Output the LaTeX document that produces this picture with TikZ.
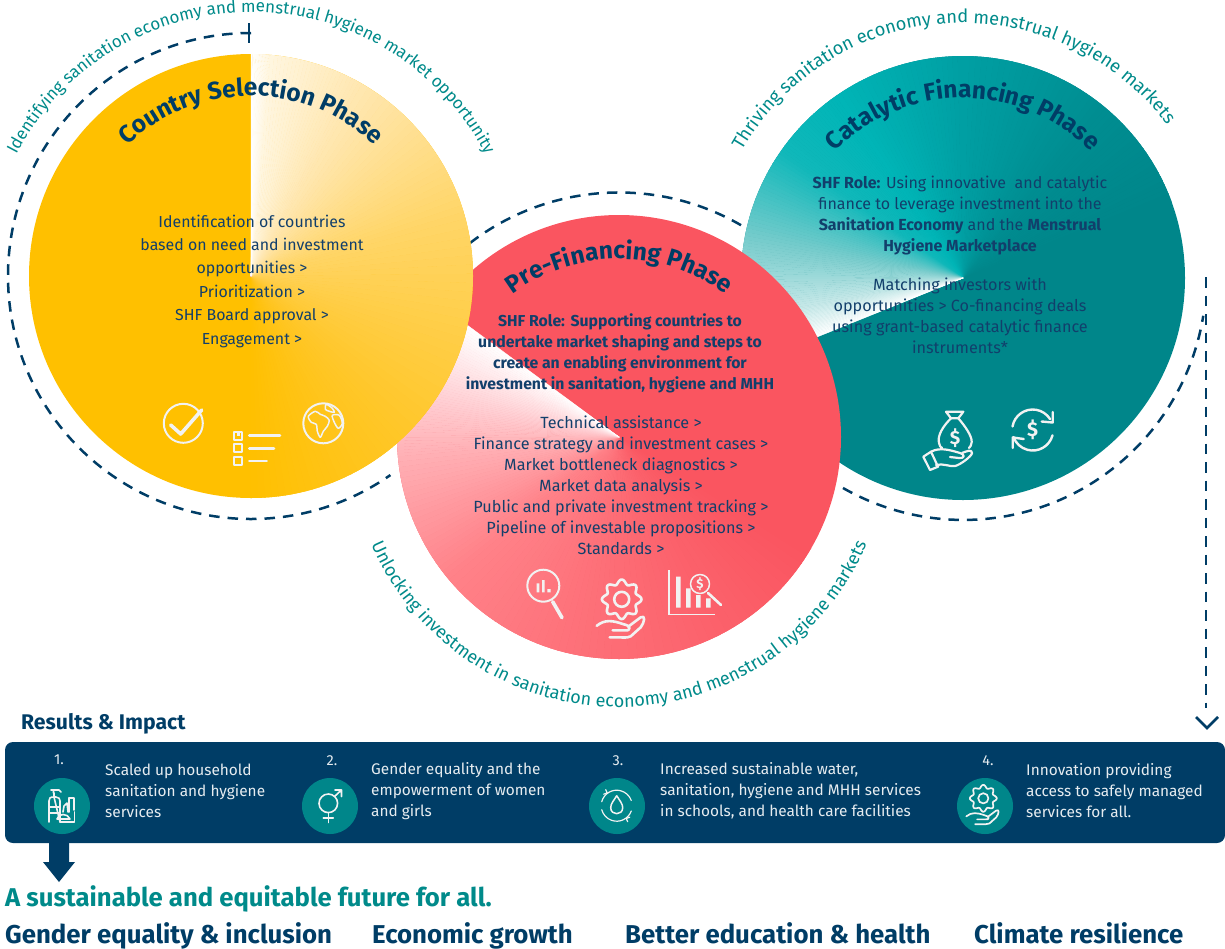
\documentclass[tikz,border=0pt]{standalone}
\usepackage{fontspec}
\setmainfont{Fira Sans}
\usetikzlibrary{decorations.text,calc}
\definecolor{navy}{HTML}{003D66}
\definecolor{inktext}{HTML}{123F6B}
\definecolor{tealtxt}{HTML}{008A8A}
\definecolor{tealbase}{HTML}{00868A}
\definecolor{redbase}{HTML}{FA5560}
\definecolor{yelbase}{HTML}{FFC000}
\definecolor{iconw}{HTML}{F2F2F2}
\definecolor{bartxt}{HTML}{E6ECF0}
\tikzset{
  px/.style={x=1pt,y=-1pt},
  dasharc/.style={draw=navy,line width=2.5pt,dash pattern=on 10.5pt off 8pt},
  icon/.style={draw=iconw,line width=2.6pt,line cap=round,line join=round},
  iconthin/.style={draw=iconw,line width=1.5pt,line cap=round,line join=round},
  bodytxt/.style={text=inktext,align=center,inner sep=0pt},
  bartext/.style={text=bartxt,align=left,anchor=west,inner sep=0pt,font=\fontsize{15.4}{21}\selectfont},
  barnum/.style={text=bartxt,inner sep=0pt,font=\fontsize{14.5}{16}\selectfont},
  barcirc/.style={circle,fill=tealbase,minimum size=56pt,inner sep=0pt},
  headrow/.style={text=navy,anchor=base west,inner sep=0pt,font=\fontsize{25.8}{28}\selectfont\bfseries},
  dollar/.style={text=iconw,inner sep=0pt},
}
\newcommand{\arcfonta}{\fontsize{17}{17}\selectfont}
\newcommand{\arcfontb}{\fontsize{18.3}{18.3}\selectfont}
\newcommand{\arcfontc}{\fontsize{18}{18}\selectfont}
\newcommand{\titlefont}{\fontsize{24.5}{25}\selectfont\bfseries}
% one conic segment: centre x, centre y, start angle, end angle, start colour, end colour
\newcommand{\coseg}[6]{%
  \foreach \t in {0,...,24}{%
    \pgfmathsetmacro{\aa}{#3+(#4-#3)*\t/25}%
    \pgfmathsetmacro{\ab}{#3+(#4-#3)*(\t+1)/25}%
    \pgfmathsetmacro{\mm}{100*(\t+.5)/25}%
    \fill[fill=#6!\mm!#5,draw=#6!\mm!#5,line width=.4pt] (#1,#2) -- +(\aa:240) -- +(\ab:240) -- cycle;
  }}
\newcommand{\gearhand}[4]{% x y scale linewidth
  \begin{scope}[shift={(#1,#2)},scale=#3,draw=iconw,line width=#4,line cap=round,line join=round]
    \draw plot[domain=0:360,samples=113,smooth] (\x:{17.5*(1+.13*cos(8*\x))});
    \draw (0,0) circle (7.5);
    \draw (-25,26.5) .. controls (-17,20) and (-9,21) .. (2,25) .. controls (9,26) and (10,32) .. (3,31) -- (-9,31);
    \draw (7,27) -- (19,18) .. controls (24,15) and (23,23) .. (19,28) -- (9,37) .. controls (5,39) and (0,38) .. (-3,38) -- (-12,38);
  \end{scope}}
\begin{document}
\begin{tikzpicture}[px]
\useasboundingbox (0,0) rectangle (1225,948);
% dashed rings
\draw[dasharc] (251,33) arc (-90:-305:243);
\draw[dasharc] (470,243) arc (-127.5:-59:244.5);
\draw[dasharc] (843,488) arc (119.7:9.2:243);
\coordinate (vtop) at (1206,277);
\coordinate (vbot) at (1206,708);
\coordinate (vtip) at (1207,728);
\coordinate (vl) at (1196,717);
\coordinate (vr) at (1218,717);
\coordinate (ticktop) at (249,23);
\coordinate (tickbot) at (249,43);
\draw[dasharc] (vtop) -- (vbot);
\draw[navy,line width=2.6pt] (vl) -- (vtip) -- (vr);
\draw[navy,line width=2.6pt] (ticktop) -- (tickbot);
% circle 3
\begin{scope}
\fill[tealbase] (963,278) circle (222);
\clip (963,278) circle (222);
\definecolor{s0}{HTML}{FFFFFF}\definecolor{s1}{HTML}{C5E8E8}\definecolor{s2}{HTML}{78CCCC}\definecolor{s3}{HTML}{10B8BA}\definecolor{s4}{HTML}{00B5B7}\definecolor{s5}{HTML}{009FA3}\definecolor{s6}{HTML}{008D91}\definecolor{s7}{HTML}{00868A}
\coseg{963}{278}{-20}{-50}{s7}{s6}
\coseg{963}{278}{-50}{-90}{s6}{s5}
\coseg{963}{278}{-90}{-125}{s5}{s4}
\coseg{963}{278}{-125}{-145}{s4}{s3}
\coseg{963}{278}{-145}{-170}{s3}{s2}
\coseg{963}{278}{-170}{-190}{s2}{s1}
\coseg{963}{278}{-190}{-202}{s1}{s0}
\end{scope}
% circle 2
\begin{scope}
\fill[redbase] (619,437) circle (222);
\clip (619,437) circle (222);
\definecolor{s0}{HTML}{FFFFFF}\definecolor{s1}{HTML}{FFD5D9}\definecolor{s2}{HTML}{FFB0B5}\definecolor{s3}{HTML}{FF8188}\definecolor{s4}{HTML}{FD6C75}\definecolor{s5}{HTML}{FA5560}
\coseg{619}{437}{-330}{-270}{s5}{s4}
\coseg{619}{437}{-270}{-220}{s4}{s3}
\coseg{619}{437}{-220}{-185}{s3}{s2}
\coseg{619}{437}{-185}{-165}{s2}{s1}
\coseg{619}{437}{-165}{-143.6}{s1}{s0}
\end{scope}
% circle 1
\begin{scope}
\fill[yelbase] (251,276) circle (222);
\clip (251,276) circle (222);
\definecolor{s0}{HTML}{FFFFFF}\definecolor{s1}{HTML}{FFF6E0}\definecolor{s2}{HTML}{FFE7B0}\definecolor{s3}{HTML}{FFD566}\definecolor{s4}{HTML}{FFC72A}\definecolor{s5}{HTML}{FFC000}
\coseg{251}{276}{90}{45}{s5}{s4}
\coseg{251}{276}{45}{-15}{s4}{s3}
\coseg{251}{276}{-15}{-60}{s3}{s2}
\coseg{251}{276}{-60}{-85}{s2}{s1}
\coseg{251}{276}{-85}{-90}{s1}{s0}
\end{scope}
% arc captions
\path[postaction={decorate},decoration={text along path,text color=tealtxt,text align=center,text={|\arcfonta|Identifying sanitation economy and menstrual hygiene market opportunity}}] (251,276) ++(-165:264) arc (-165:-15:264);
\path[postaction={decorate},decoration={text along path,text color=tealtxt,text align=center,text={|\arcfontb|Thriving sanitation economy and menstrual hygiene markets}}] (963,278) ++(-167:255) arc (-167:-20:255);
\path[postaction={decorate},decoration={text along path,text color=tealtxt,text align=center,text={|\arcfontc|Unlocking investment in sanitation economy and menstrual hygiene markets}}] (619,437) ++(-195:270) arc (-195:-345:270);
% titles
\path[postaction={decorate},decoration={text along path,text color=navy,text align=center,text={|\titlefont|Country Selection Phase}}] (251,276) ++(-160:180) arc (-160:-20:180);
\path[postaction={decorate},decoration={text along path,text color=navy,text align=center,text={|\titlefont|Pre-Financing Phase}}] (619,437) ++(-160:178) arc (-160:-20:178);
\path[postaction={decorate},decoration={text along path,text color=navy,text align=center,text={|\titlefont|Catalytic Financing Phase}}] (963,278) ++(-160:180) arc (-160:-20:180);
% circle texts
\node[bodytxt,font=\fontsize{15.9}{23.4}\selectfont] (t1) at (252,281) {Identification of countries\\based on need and investment\\opportunities >\\Prioritization >\\SHF Board approval >\\Engagement >};
\node[bodytxt,font=\fontsize{15.8}{21}\selectfont] (t2a) at (620,353) {\textbf{SHF Role:} \textbf{Supporting countries to}\\\textbf{undertake market shaping and steps to}\\\textbf{create an enabling environment for}\\\textbf{investment in sanitation, hygiene and MHH}};
\node[bodytxt,font=\fontsize{16.2}{21}\selectfont] (t2b) at (621,485.5) {Technical assistance >\\Finance strategy and investment cases >\\Market bottleneck diagnostics >\\Market data analysis >\\Public and private investment tracking >\\Pipeline of investable propositions >\\Standards >};
\node[bodytxt,font=\fontsize{16}{21}\selectfont] (t3a) at (960,216) {\textbf{SHF Role:} Using innovative\ \ and catalytic\\finance to leverage investment into the\\\textbf{Sanitation Economy} and the \textbf{Menstrual}\\\textbf{Hygiene Marketplace}};
\node[bodytxt,font=\fontsize{16.2}{21}\selectfont] (t3b) at (960,316) {Matching investors with\\opportunities > Co-financing deals\\using grant-based catalytic finance\\instruments*};
% icons circle 1
\draw[iconthin,line width=2pt] (183.3,423.3) circle (19.5);
\draw[icon,line width=3.6pt] (170.7,425) -- (180.7,434) -- (201.7,410);
\foreach \yy in {435.7,448.3,461}{\draw[iconthin,line width=2pt] (234.3,\yy-4) rectangle +(8,8);}
\fill[iconw] (236.8,433.2) rectangle +(3,3);
\draw[icon] (249.3,435.7) -- (280,435.7);
\draw[icon] (249.3,448.3) -- (274,448.3);
\draw[icon] (249.3,461) -- (266.7,461);
\begin{scope}[shift={(323.3,423.3)},iconthin]
\draw[line width=2pt] (0,0) circle (20);
\draw plot[smooth cycle] coordinates {(-15,-7)(-8,-12)(-3,-9)(2,-7)(6,-3)(4,3)(0,8)(-3,14)(-6,8)(-7,1)(-12,-1)};
\draw plot[smooth cycle] coordinates {(3,-19)(9,-15)(11,-11)(6,-12)(2,-14)};
\draw plot[smooth cycle] coordinates {(9,-8)(16,-8)(19,0)(15,5)(11,-1)};
\end{scope}
% icons circle 2
\draw[iconthin,line width=2pt] (543.3,585.7) circle (16);
\draw[icon,line width=3.6pt] (552.7,601.7) -- (562,617.7);
\fill[iconw] (536.7,583.3) rectangle (539.3,592.3) (542,580) rectangle (544.7,592.3) (547.3,589) rectangle (550.7,592.3);
\gearhand{621.7}{599.3}{1}{2.6pt}
\begin{scope}[shift={(520,565)}]
\draw[iconw,line width=1.2pt] (149,5) -- (149,49.5) -- (195,49.5);
\fill[iconw] (156,11.7) rectangle +(4.7,31) (166,23.3) rectangle +(4.7,19.4) (176,30) rectangle +(4.7,12.7) (186,33.3) rectangle +(4.7,9.4);
\fill[redbase!92!white] (180,19) circle (9.5);
\draw[iconthin] (180,19) circle (9.5);
\draw[icon] (188,28) -- (201,40);
\node[dollar,font=\fontsize{13}{13}\selectfont\bfseries] (chartdollar) at (180,19) {\$};
\end{scope}
% icons circle 3
\begin{scope}[shift={(915,400)},iconthin,line width=2.2pt]
\draw (31,11.7) -- (48.3,11.7) -- (43.3,18.3) -- (36,18.3) -- cycle;
\draw (36,18.3) .. controls (28,26) and (22,36) .. (24,43) .. controls (24,46) and (26,47) .. (27,48);
\draw (43.3,18.3) .. controls (50,26) and (57,36) .. (56.7,42) .. controls (56.7,45) and (55,47) .. (54,48);
\node[dollar,font=\fontsize{19}{19}\selectfont\bfseries] (bagdollar) at (40,38) {\$};
\draw (8.3,56.7) -- (16,51.7) -- (23,66.7) -- (15,70) -- cycle;
\draw (16,51.7) .. controls (25,47) and (35,50) .. (45,53) .. controls (50,54) and (50,59) .. (44,58) -- (35,57);
\draw (47,53) .. controls (52,51) and (57,49) .. (57,53) .. controls (57,56) and (45,65) .. (40,66) .. controls (35,67) and (28,63) .. (21,65);
\end{scope}
\begin{scope}[shift={(1032.7,430)},iconthin,line width=2.4pt]
\draw (-170:20.5) arc (-170:-32:20.5);
\draw (9,-8.5) -- (20,-7.5) -- (20,-18);
\draw (15:20.5) arc (15:160:20.5);
\draw (-9,9) -- (-20,7.5) -- (-20,18);
\node[dollar,font=\fontsize{20}{20}\selectfont\bfseries] (swapdollar) at (0,0) {\$};
\end{scope}
% bar
\node[fill=navy,rounded corners=8pt,minimum width=1220pt,minimum height=101pt,inner sep=0pt] (bar) at (615,792.5) {};
\fill[navy] (49,840) -- (69,840) -- (69,862) -- (75,862) -- (59,882) -- (43,862) -- (49,862) -- cycle;
\node[barcirc] (c1) at (62,806) {};
\node[barcirc] (c2) at (330,806) {};
\node[barcirc] (c3) at (617,806) {};
\node[barcirc] (c4) at (985,806) {};
\node[barnum] (n1) at (59,760) {1.};
\node[barnum] (n2) at (332,761) {2.};
\node[barnum] (n3) at (618,761) {3.};
\node[barnum] (n4) at (988,761) {4.};
\node[bartext] (b1) at (105,790.5) {Scaled up household\\sanitation and hygiene\\services};
\node[bartext] (b2) at (371,791) {Gender equality and the\\empowerment of women\\and girls};
\node[bartext] (b3) at (660,791) {Increased sustainable water,\\sanitation, hygiene and MHH services\\in schools, and health care facilities};
\node[bartext] (b4) at (1026,790.5) {Innovation providing\\access to safely managed\\services for all.};
% bar icon 1
\begin{scope}[shift={(25,775)},iconthin,line width=1.6pt]
\draw (24,47) -- (24,26) .. controls (24,23) and (25,22) .. (29,22) -- (29,18) (29,22) -- (31,22) .. controls (34,22) and (35,24) .. (35,26) -- (35,47) -- cycle;
\draw (24,32) -- (35,32) (24,38) -- (35,38);
\draw (28.5,18) -- (28.5,15) (26,15) -- (34,15) -- (36,17);
\draw (35,47) -- (49.5,47) -- (49.5,37);
\draw (32,44) .. controls (33,38) and (43,38) .. (45,44) -- (32,44);
\draw (38,37) -- (39,31) -- (42,28) -- (43,37);
\draw (44,37) -- (44,23) -- (49,23) -- (49,35);
\end{scope}
% bar icon 2
\begin{scope}[shift={(295,775)},iconthin,line width=1.6pt]
\draw (33.3,28.3) circle (9.3);
\draw (33.3,37.7) -- (33.3,47.5) (28.3,42.7) -- (38.3,42.7);
\draw (39.5,21.5) -- (46.5,15) (40,15) -- (46.5,15) -- (46.5,21.5);
\end{scope}
% bar icon 3
\begin{scope}[shift={(616.7,805.7)},iconthin,line width=1.2pt]
\draw (-165:15.5) arc (-165:-20:15.5);
\draw (20:15.5) arc (20:165:15.5);
\draw (-11,-16) -- (-9.5,-12.8) -- (-13,-11.5);
\draw (11,16) -- (9.5,12.8) -- (13,11.5);
\draw[line width=1.5pt] (0,-10) .. controls (-3,-5) and (-6,-2) .. (-6,2) .. controls (-6,10) and (6,10) .. (6,2) .. controls (6,-2) and (3,-5) .. (0,-10);
\end{scope}
\gearhand{983.3}{798.3}{.68}{1.7pt}
% arrow text
\node[text=navy,anchor=base west,inner sep=0pt,font=\fontsize{21.2}{22}\selectfont\bfseries] (results) at (21,729) {Results \& Impact};
\node[text=tealtxt,anchor=base west,inner sep=0pt,font=\fontsize{25.7}{27}\selectfont\bfseries] (future) at (5,906) {A sustainable and equitable future for all.};
\node[headrow] (h1) at (5,943) {Gender equality \& inclusion};
\node[headrow] (h2) at (372,943) {Economic growth};
\node[headrow] (h3) at (625,943) {Better education \& health};
\node[headrow] (h4) at (974,943) {Climate resilience};
\end{tikzpicture}
\end{document}
